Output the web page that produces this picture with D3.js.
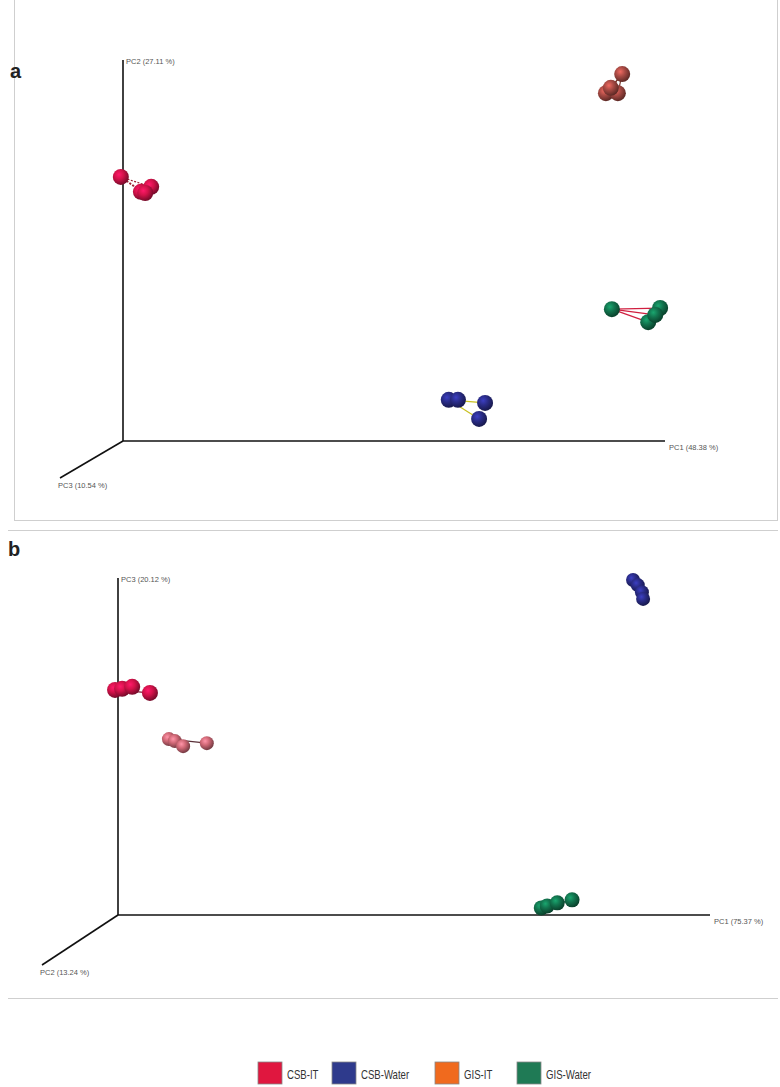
<!DOCTYPE html>
<html>
<head>
<meta charset="utf-8">
<script src="https://cdn.jsdelivr.net/npm/d3@7"></script>
<style>
  html, body { margin: 0; padding: 0; background: #fff; }
  svg { display: block; }
</style>
</head>
<body>
<svg id="chart" width="780" height="1087"></svg>
<script>
// Groups and colours
const groups = ["CSB-IT", "CSB-Water", "GIS-IT", "GIS-Water"];
const legendColors = ["#e0173f", "#2e3a8c", "#f06a1e", "#1f7a55"];

// Axis titles per panel
const axisLabelsA = { up: "PC2 (27.11 %)", right: "PC1 (48.38 %)", depth: "PC3 (10.54 %)" };
const axisLabelsB = { up: "PC3 (20.12 %)", right: "PC1 (75.37 %)", depth: "PC2 (13.24 %)" };

// Panel a: projected ordination scores (horizontal, vertical), on a 0-100 axis scale
const aCsbIt    = [[-0.4, 69.3], [3.3, 65.4], [5.2, 66.7], [4.1, 65.1]];
const aGisIt    = [[92.1, 96.3], [89.1, 91.3], [91.3, 91.3], [90.0, 92.7]];
const aGisWater = [[90.2, 34.6], [99.1, 34.9], [96.9, 31.2], [98.2, 33.1]];
const aCsbWater = [[60.1, 10.8], [61.8, 10.8], [66.8, 10.0], [65.7, 5.8]];

// Panel b
const bCsbIt    = [[-0.5, 66.8], [0.7, 67.1], [2.4, 67.7], [5.4, 65.9]];
const bGisIt    = [[8.6, 52.2], [9.6, 51.6], [11.0, 50.1], [15.0, 51.0]];
const bCsbWater = [[87.0, 99.4], [87.8, 97.9], [88.5, 95.8], [88.7, 93.8]];
const bGisWater = [[71.5, 2.1], [72.5, 2.7], [74.2, 3.6], [76.7, 4.5]];

const svg = d3.select("#chart");
const defs = svg.append("defs");

// sphere shading gradients
function sphereGrad(id, base) {
  const c = d3.color(base);
  const g = defs.append("radialGradient").attr("id", id)
    .attr("cx", "38%").attr("cy", "35%").attr("r", "65%");
  g.append("stop").attr("offset", "0%").attr("stop-color", d3.color(base).brighter(1.0));
  g.append("stop").attr("offset", "45%").attr("stop-color", c);
  g.append("stop").attr("offset", "100%").attr("stop-color", d3.color(base).darker(1.6));
  return `url(#${id})`;
}
const fills = {
  red: sphereGrad("gRed", "#d3124a"),
  blue: sphereGrad("gBlue", "#2a2c88"),
  orange: sphereGrad("gOrange", "#a84a44"),
  green: sphereGrad("gGreen", "#12744e"),
  salmon: sphereGrad("gSalmon", "#d06876")
};

// panel frames
svg.append("rect").attr("x", 14.5).attr("y", -1).attr("width", 763).attr("height", 521.5)
  .attr("fill", "none").attr("stroke", "#cfcfcf").attr("stroke-width", 1);
svg.append("line").attr("x1", 8).attr("x2", 778).attr("y1", 530.5).attr("y2", 530.5)
  .attr("stroke", "#cfcfcf");
svg.append("line").attr("x1", 8).attr("x2", 778).attr("y1", 998.5).attr("y2", 998.5)
  .attr("stroke", "#cfcfcf");

function panel(cfg) {
  const x = d3.scaleLinear().domain([0, 100]).range([cfg.x0, cfg.x1]);
  const y = d3.scaleLinear().domain([0, 100]).range([cfg.y0, cfg.y1]);
  const g = svg.append("g");

  g.append("text").attr("x", cfg.letterX).attr("y", cfg.letterY)
    .attr("font-family", "Liberation Sans, Arial, sans-serif").attr("font-weight", "bold")
    .attr("font-size", 20).attr("fill", "#222").text(cfg.letter);

  // axes: vertical, horizontal and receding depth axis
  const ax = g.append("g").attr("stroke", "#111").attr("stroke-width", 1.6);
  ax.append("line").attr("x1", x(0)).attr("x2", x(0)).attr("y1", y(0)).attr("y2", y(100));
  ax.append("line").attr("x1", x(0)).attr("x2", x(100)).attr("y1", y(0)).attr("y2", y(0));
  ax.append("line").attr("x1", x(0)).attr("y1", y(0)).attr("x2", cfg.dx).attr("y2", cfg.dy);

  const lab = g.append("g").attr("font-family", "Liberation Sans, Arial, sans-serif")
    .attr("font-size", 7.5).attr("fill", "#555");
  lab.append("text").attr("x", x(0) + 3).attr("y", y(100) + 4).text(cfg.labels.up);
  lab.append("text").attr("x", x(100) + 4).attr("y", y(0) + 9).text(cfg.labels.right);
  lab.append("text").attr("x", cfg.dx - 2).attr("y", cfg.dy + 10).text(cfg.labels.depth);

  cfg.sets.forEach(s => {
    const pts = s.data.map(d => [x(d[0]), y(d[1])]);
    // connector lines from the first replicate
    g.append("g").selectAll("line").data(pts.slice(1)).join("line")
      .attr("x1", pts[0][0]).attr("y1", pts[0][1])
      .attr("x2", d => d[0]).attr("y2", d => d[1])
      .attr("stroke", s.line).attr("stroke-width", 1.2)
      .attr("stroke-dasharray", s.dash || null);
    g.append("g").selectAll("circle").data(pts).join("circle")
      .attr("cx", d => d[0]).attr("cy", d => d[1]).attr("r", s.r)
      .attr("fill", s.fill);
  });
}

panel({
  letter: "a", letterX: 10, letterY: 78,
  x0: 123, x1: 665, y0: 441, y1: 60, dx: 60, dy: 478,
  labels: axisLabelsA,
  sets: [
    { data: aCsbIt, fill: fills.red, line: "#9a2030", dash: "2,1.5", r: 8 },
    { data: aGisIt, fill: fills.orange, line: "#7a3a30", r: 8 },
    { data: aGisWater, fill: fills.green, line: "#d02040", r: 8 },
    { data: aCsbWater, fill: fills.blue, line: "#c8c020", r: 8 }
  ]
});

panel({
  letter: "b", letterX: 8, letterY: 556,
  x0: 118, x1: 710, y0: 915, y1: 578, dx: 42, dy: 965,
  labels: axisLabelsB,
  sets: [
    { data: bCsbIt, fill: fills.red, line: "#7a1830", r: 8 },
    { data: bGisIt, fill: fills.salmon, line: "#5a3038", r: 7 },
    { data: bCsbWater, fill: fills.blue, line: "#4a2a80", r: 7 },
    { data: bGisWater, fill: fills.green, line: "#0e5a3c", r: 7.5 }
  ]
});

// legend
const legendX = [258, 332, 435, 517];
const lg = svg.append("g");
groups.forEach((name, i) => {
  lg.append("rect").attr("x", legendX[i]).attr("y", 1062).attr("width", 24).attr("height", 22)
    .attr("fill", legendColors[i]).attr("stroke", "#888").attr("stroke-width", 0.8);
  // condensed label text
  lg.append("text")
    .attr("transform", `translate(${legendX[i] + 29},1079) scale(0.8,1)`)
    .attr("font-family", "Liberation Sans, Arial, sans-serif")
    .attr("font-size", 12).attr("fill", "#333").text(name);
});
</script>
</body>
</html>
